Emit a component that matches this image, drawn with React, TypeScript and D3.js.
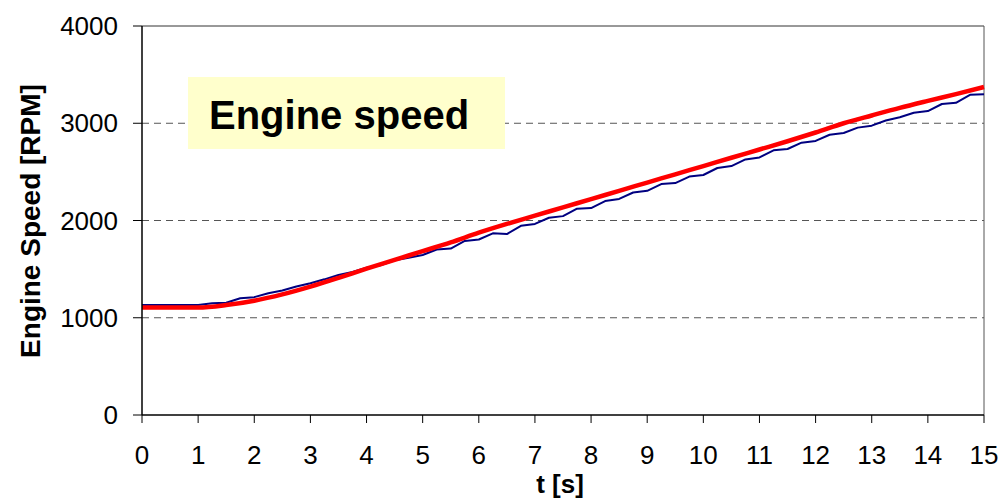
import React from "react";
import * as d3 from "d3";

const redT = [0, 0.5, 1, 1.5, 2, 2.5, 3, 3.5, 4, 4.5, 5, 5.5, 6, 6.5, 7, 7.5, 8, 8.5, 9, 9.5, 10, 10.5, 11, 11.5, 12, 12.5, 13, 13.5, 14, 14.5, 15];
const redV = [1105, 1105, 1105, 1130, 1175, 1240, 1320, 1410, 1505, 1595, 1685, 1775, 1875, 1965, 2050, 2135, 2220, 2305, 2390, 2475, 2560, 2645, 2730, 2815, 2905, 3000, 3080, 3158, 3230, 3300, 3373];

const blueT = [0, 0.25, 0.5, 0.75, 1, 1.25, 1.5, 1.75, 2, 2.25, 2.5, 2.75, 3, 3.25, 3.5, 3.75, 4, 4.25, 4.5, 4.75, 5, 5.25, 5.5, 5.75, 6, 6.25, 6.5, 6.75, 7, 7.25, 7.5, 7.75, 8, 8.25, 8.5, 8.75, 9, 9.25, 9.5, 9.75, 10, 10.25, 10.5, 10.75, 11, 11.25, 11.5, 11.75, 12, 12.25, 12.5, 12.75, 13, 13.25, 13.5, 13.75, 14, 14.25, 14.5, 14.75, 15];
const blueV = [1130, 1130, 1130, 1130, 1132, 1148, 1155, 1200, 1212, 1252, 1280, 1322, 1355, 1395, 1440, 1470, 1515, 1540, 1590, 1618, 1645, 1702, 1712, 1790, 1805, 1868, 1860, 1945, 1965, 2028, 2045, 2122, 2128, 2200, 2222, 2288, 2305, 2375, 2385, 2452, 2468, 2540, 2560, 2628, 2648, 2722, 2735, 2800, 2818, 2882, 2900, 2955, 2975, 3028, 3062, 3108, 3125, 3198, 3210, 3292, 3298];

const xTicks = [0, 1, 2, 3, 4, 5, 6, 7, 8, 9, 10, 11, 12, 13, 14, 15];
const yTicks = [0, 1000, 2000, 3000, 4000];
const gridValues = [1000, 2000, 3000];

const titleText = "Engine speed";
const xTitle = "t [s]";
const yTitle = "Engine Speed [RPM]";

export default function App() {
  const W = 1001, H = 500;
  const left = 142, right = 984, top = 26, bottom = 415;
  const x = d3.scaleLinear().domain([0, 15]).range([left, right]);
  const y = d3.scaleLinear().domain([0, 4000]).range([bottom, top]);
  const font = "'Liberation Sans', Arial, sans-serif";

  const redLine = d3.line<number>().x((_, i) => x(redT[i])).y((v) => y(v)).curve(d3.curveMonotoneX);
  const blueLine = d3.line<number>().x((_, i) => x(blueT[i])).y((v) => y(v));

  return (
    <svg width={W} height={H} style={{ position: "absolute", left: 0, top: 0, background: "#fff" }}>
      <defs>
        <clipPath id="plot">
          <rect x={left} y={top - 5} width={right - left + 3} height={bottom - top + 5} />
        </clipPath>
      </defs>
      <line x1={left} x2={right} y1={top} y2={top} stroke="#333" strokeWidth={1} />
      <line x1={right} x2={right} y1={top} y2={bottom} stroke="#555" strokeWidth={1} />
      {gridValues.map((v) => (
        <line key={v} x1={left} x2={right} y1={y(v)} y2={y(v)} stroke="#555" strokeWidth={1} strokeDasharray="7,5" />
      ))}
      <rect x={188} y={77} width={317} height={72} fill="#FFFFCC" />
      <text x={209} y={129} fontFamily={font} fontSize={40} fontWeight="bold" fill="#000">{titleText}</text>
      <g clipPath="url(#plot)">
        <path d={blueLine(blueV) || ""} fill="none" stroke="#000080" strokeWidth={2} strokeLinejoin="round" />
        <path d={redLine(redV) || ""} fill="none" stroke="#FF0000" strokeWidth={4.5} strokeLinejoin="round" />
      </g>
      <line x1={left} x2={left} y1={top} y2={bottom} stroke="#000" strokeWidth={1.5} />
      <line x1={left} x2={right} y1={bottom} y2={bottom} stroke="#000" strokeWidth={1.5} />
      {yTicks.map((v) => (
        <g key={v}>
          <line x1={left - 9} x2={left} y1={y(v)} y2={y(v)} stroke="#000" strokeWidth={1} />
          <text x={118} y={y(v) + 9} textAnchor="end" fontFamily={font} fontSize={26} fill="#000">{v}</text>
        </g>
      ))}
      {xTicks.map((t) => (
        <g key={t}>
          <line x1={x(t)} x2={x(t)} y1={bottom} y2={bottom + 8} stroke="#000" strokeWidth={1} />
          <text x={x(t)} y={464} textAnchor="middle" fontFamily={font} fontSize={26} fill="#000">{t}</text>
        </g>
      ))}
      <text x={560} y={493} textAnchor="middle" fontFamily={font} fontSize={26} fontWeight="bold" fill="#000">{xTitle}</text>
      <text transform={`translate(40,${221}) rotate(-90)`} textAnchor="middle" fontFamily={font} fontSize={28} fontWeight="bold" fill="#000">{yTitle}</text>
    </svg>
  );
}
